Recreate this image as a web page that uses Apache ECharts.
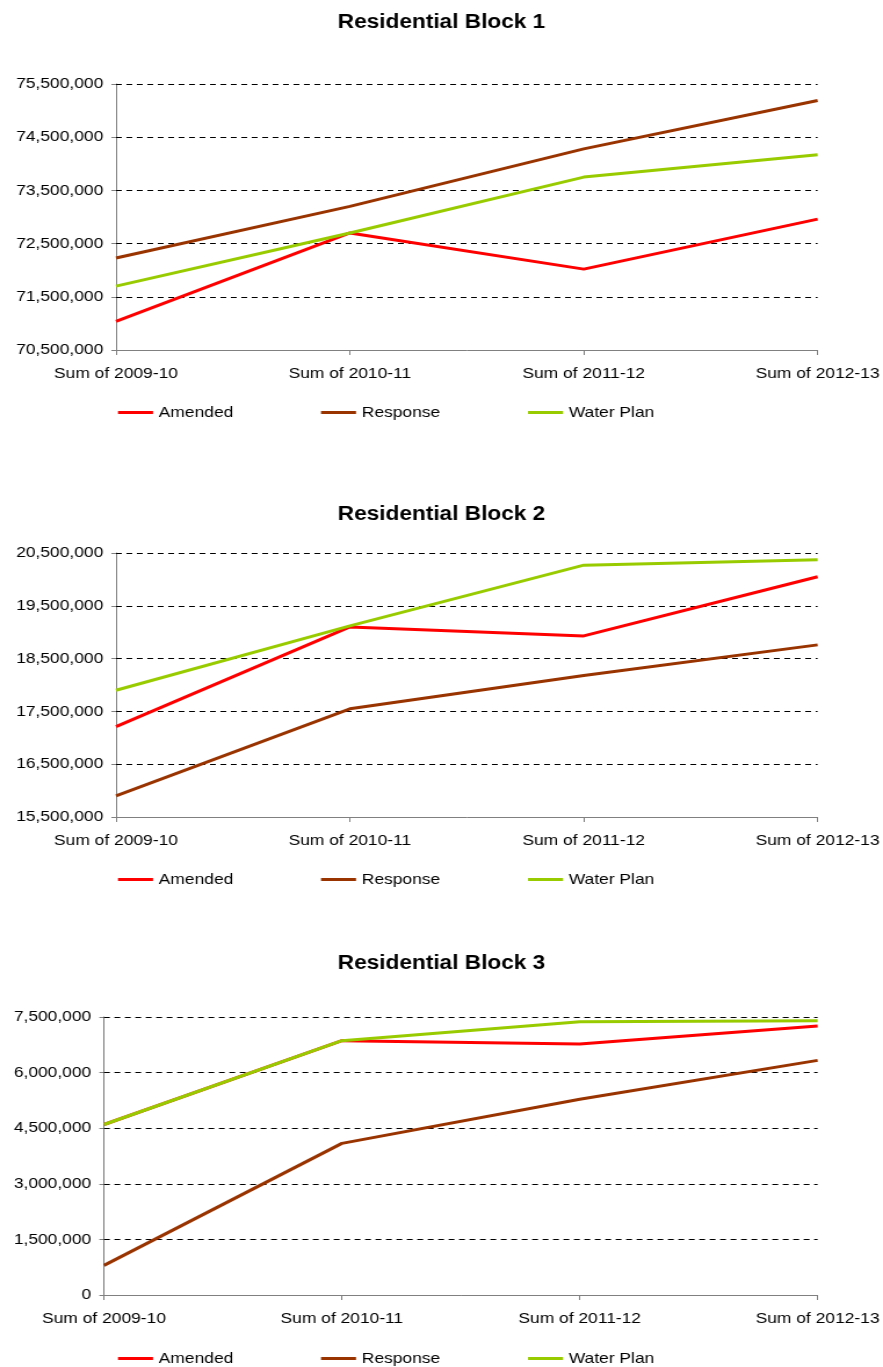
<!DOCTYPE html>
<html>
<head>
<meta charset="utf-8">
<style>
  html, body { margin: 0; padding: 0; background: #ffffff; overflow: hidden; }
  #chart { width: 761px; height: 1367px; transform: scaleX(1.16032); transform-origin: 0 0; }
</style>
<script src="https://cdn.jsdelivr.net/npm/echarts@6/dist/echarts.min.js"></script>
</head>
<body>
<div id="chart"></div>
<script>
// Category labels shared by all three blocks
const categories = ['Sum of 2009-10', 'Sum of 2010-11', 'Sum of 2011-12', 'Sum of 2012-13'];
const seriesNames = ['Amended', 'Response', 'Water Plan'];
const seriesColors = ['#ff0000', '#993300', '#99cc00'];

// Residential Block 1
const block1Title = 'Residential Block 1';
const block1Amended = [71040000, 72700000, 72020000, 72960000];
const block1Response = [72230000, 73200000, 74280000, 75190000];
const block1WaterPlan = [71700000, 72700000, 73750000, 74170000];
const block1Ticks = [70500000, 71500000, 72500000, 73500000, 74500000, 75500000];

// Residential Block 2
const block2Title = 'Residential Block 2';
const block2Amended = [17210000, 19100000, 18930000, 20050000];
const block2Response = [15900000, 17550000, 18180000, 18760000];
const block2WaterPlan = [17900000, 19120000, 20270000, 20370000];
const block2Ticks = [15500000, 16500000, 17500000, 18500000, 19500000, 20500000];

// Residential Block 3
const block3Title = 'Residential Block 3';
const block3Amended = [4600000, 6860000, 6770000, 7260000];
const block3Response = [800000, 4090000, 5280000, 6330000];
const block3WaterPlan = [4600000, 6860000, 7370000, 7400000];
const block3Ticks = [0, 1500000, 3000000, 4500000, 6000000, 7500000];

// The page is drawn in a narrower box and widened by the CSS scaleX above,
// so horizontal positions are given in page pixels and divided by the stretch.
const STRETCH = 883 / 761;
const hx = v => v / STRETCH;

const blocks = [
  { title: block1Title, data: [block1Amended, block1Response, block1WaterPlan], ticks: block1Ticks,
    grid: { left: hx(116), top: 84, width: hx(702), height: 266 }, titleTop: 13, legendTop: 405 },
  { title: block2Title, data: [block2Amended, block2Response, block2WaterPlan], ticks: block2Ticks,
    grid: { left: hx(116), top: 553, width: hx(702), height: 264 }, titleTop: 505, legendTop: 872 },
  { title: block3Title, data: [block3Amended, block3Response, block3WaterPlan], ticks: block3Ticks,
    grid: { left: hx(104), top: 1017, width: hx(715), height: 278 }, titleTop: 954, legendTop: 1351 }
];
const legendLefts = [hx(118), hx(321), hx(528)];

const FONT = 'Liberation Sans, Arial, sans-serif';
const fmt = v => Number(v).toLocaleString('en-US');

const option = {
  backgroundColor: '#ffffff',
  animation: false,
  title: [], legend: [], grid: [], xAxis: [], yAxis: [], series: []
};

blocks.forEach((b, i) => {
  const ticks = b.ticks;
  const step = ticks[1] - ticks[0];
  option.title.push({
    text: b.title, left: 'center', top: b.titleTop, padding: 0,
    textStyle: { fontFamily: FONT, fontSize: 19.5, fontWeight: 'bold', color: '#000' }
  });
  // one legend per entry so each sits at its own column
  seriesNames.forEach((name, k) => {
    option.legend.push({
      data: [name], left: legendLefts[k], top: b.legendTop, padding: 0,
      icon: 'rect', itemWidth: hx(35), itemHeight: 3, selectedMode: false,
      textStyle: { fontFamily: FONT, fontSize: 15, color: '#000' }
    });
  });
  option.grid.push(Object.assign({ containLabel: false }, b.grid));
  option.xAxis.push({
    type: 'category', gridIndex: i, data: categories, boundaryGap: false,
    axisLine: { lineStyle: { color: '#808080', width: 1 } },
    axisTick: { show: true, alignWithLabel: true, length: 5, lineStyle: { color: '#808080' } },
    axisLabel: { fontFamily: FONT, fontSize: 15, color: '#000', margin: 16 },
    splitLine: { show: false }
  });
  option.yAxis.push({
    type: 'value', gridIndex: i,
    min: ticks[0], max: ticks[ticks.length - 1],
    interval: ticks[0] % step === 0 ? step : step / 2,
    axisLine: { show: true, lineStyle: { color: '#808080', width: 1 } },
    axisTick: { show: true, length: 4, lineStyle: { color: '#808080' }, customValues: ticks },
    axisLabel: { fontFamily: FONT, fontSize: 15, color: '#000', margin: 11, formatter: fmt, customValues: ticks },
    splitLine: { show: false }
  });
  seriesNames.forEach((name, k) => {
    const s = {
      type: 'line', name: name, xAxisIndex: i, yAxisIndex: i,
      data: b.data[k], showSymbol: false, symbol: 'none',
      lineStyle: { color: seriesColors[k], width: 3 },
      itemStyle: { color: seriesColors[k] },
      z: 3 + k
    };
    if (k === 0) {
      // dashed gridlines at each labelled value (the lowest one is the axis itself)
      s.markLine = {
        silent: true, symbol: 'none', label: { show: false }, z: 1,
        lineStyle: { color: '#000', type: [5, 4], width: 1 },
        data: ticks.slice(1).map(v => ({ yAxis: v }))
      };
    }
    option.series.push(s);
  });
});

const chart = echarts.init(document.getElementById('chart'), null, { renderer: 'canvas' });
chart.setOption(option);
</script>
</body>
</html>
